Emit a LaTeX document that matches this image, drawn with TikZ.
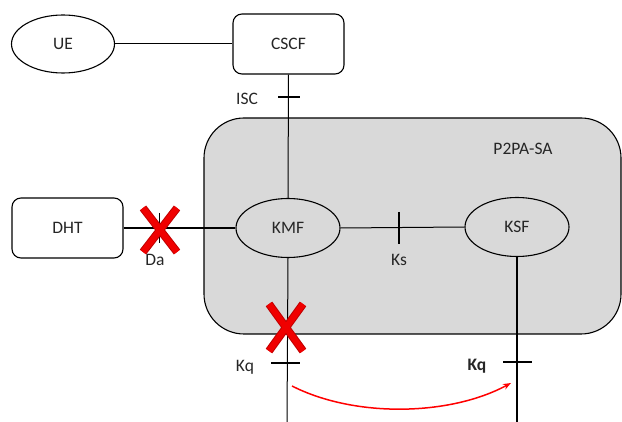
\documentclass[tikz,border=0pt]{standalone}
\usepackage{fontspec}
\setmainfont{Carlito}
\usetikzlibrary{arrows.meta,shapes.geometric}
\definecolor{sagray}{HTML}{D9D9D9}
\definecolor{xred}{HTML}{F00000}
\definecolor{xdark}{HTML}{C00000}
\begin{document}
\begin{tikzpicture}[x=1pt,y=-1pt,
  every node/.style={font=\fontsize{17.5}{20}\selectfont, text=black!85},
  box/.style={draw, rounded corners=9pt, line width=1.1pt, minimum width=111pt, minimum height=60pt, inner sep=0pt, fill=white},
  oval/.style={draw, ellipse, line width=1.1pt, minimum width=104pt, minimum height=59pt, inner sep=0pt},
  conn/.style={line width=1pt},
  thickconn/.style={line width=2pt},
  tickmark/.style={line width=1.2pt},
  redxb/.style={line width=8pt, color=xdark},
  redxf/.style={line width=6pt, color=xred},
  lbl/.style={inner sep=0pt}
]
\useasboundingbox (0,0) rectangle (622,422);
% big area
\node[draw, fill=sagray, rounded corners=40pt, line width=1.1pt, minimum width=417pt, minimum height=216pt, inner sep=0pt] (sa) at (412.5,226) {};
\node[lbl] (salbl) at (523,149) {P2PA-SA};
% nodes
\node[draw, ellipse, line width=1.1pt, minimum width=103pt, minimum height=58pt, inner sep=0pt, fill=white] (ue) at (63,44) {UE};
\node[box] (cscf) at (288.5,44) {CSCF};
\node[box] (dht) at (67.5,228) {DHT};
\node[oval, fill=sagray] (kmf) at (288,228) {KMF};
\node[oval, fill=sagray] (ksf) at (517,227) {KSF};
% connectors
\draw[conn] (ue) -- (cscf);
\draw[conn] (cscf.south) -- (kmf.north);
\draw[thickconn] (dht.east) -- (kmf.west);
\draw[conn] (kmf.east) -- (ksf.west);
\coordinate (kqa) at (287,422);
\coordinate (kqb) at (517,422);
\draw[conn] (kmf.south) -- (kqa);
\draw[thickconn, line width=1.4pt] (ksf.south) -- (kqb);
% ticks
\draw[tickmark] (278,97) -- (300,97);
\node[lbl] (isc) at (247,99) {ISC};
\draw[conn, line width=0.8pt] (159,213) -- (159,243);
\node[lbl] (da) at (155,260) {Da};
\draw[tickmark, line width=1.8pt] (399,212) -- (399,244);
\node[lbl] (ks) at (399,260) {Ks};
\draw[tickmark] (271,363) -- (300,363);
\node[lbl] (kq1) at (245,367) {Kq};
\draw[tickmark] (503,362) -- (532,362);
\node[lbl, font=\fontsize{17.5}{20}\selectfont\bfseries] (kq2) at (477,366) {Kq};
% red X marks
\draw[redxb] (143,208) -- (177,252) (177,208) -- (143,252);
\draw[redxf] (143,208) -- (177,252) (177,208) -- (143,252);
\draw[redxb] (269,304) -- (303,351) (303,304) -- (269,351);
\draw[redxf] (269,304) -- (303,351) (303,304) -- (269,351);
% red arrow
\coordinate (arra) at (292,386);
\coordinate (arrb) at (511,383);
\draw[red, line width=1.5pt, -{Stealth[length=8pt,width=6pt]}] (arra) .. controls (355,418) and (450,416) .. (arrb);
\end{tikzpicture}
\end{document}
